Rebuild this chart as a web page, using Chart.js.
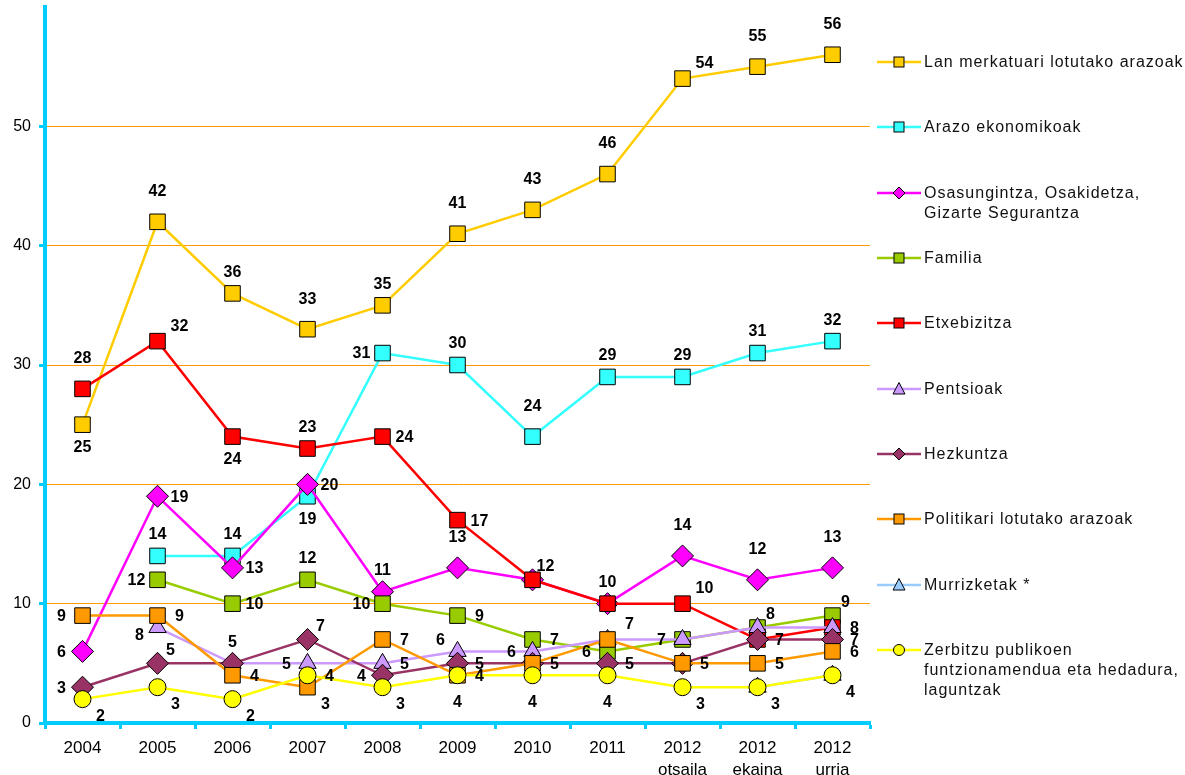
<!DOCTYPE html>
<html>
<head>
<meta charset="utf-8">
<script src="https://cdn.jsdelivr.net/npm/chart.js@4"></script>
<style>
html,body{margin:0;padding:0;background:#fff;}
#wrap{position:relative;width:1185px;height:775px;overflow:hidden;background:#fff;}
#c{position:absolute;left:0;top:0;}
#legend{position:absolute;left:877px;top:52px;font-family:"Liberation Sans",Arial,sans-serif;font-size:16px;letter-spacing:1px;color:#111;}
.item{position:relative;height:65.33px;}
.item svg{position:absolute;left:0;top:0;}
.item .txt{position:absolute;left:47px;top:0;line-height:20px;white-space:nowrap;}
</style>
</head>
<body>
<div id="wrap">
<canvas id="c" width="1185" height="775"></canvas>
<div id="legend"></div>
</div>
<script>
// ---- data ----
const categories = ['2004','2005','2006','2007','2008','2009','2010','2011',['2012','otsaila'],['2012','ekaina'],['2012','urria']];
const yTicks = [0,10,20,30,40,50];

const seriesNames = [
  'Lan merkatuari lotutako arazoak',
  'Arazo ekonomikoak',
  'Osasungintza, Osakidetza,\nGizarte Segurantza',
  'Familia',
  'Etxebizitza',
  'Pentsioak',
  'Hezkuntza',
  'Politikari lotutako arazoak',
  'Murrizketak *',
  'Zerbitzu publikoen\nfuntzionamendua eta hedadura,\nlaguntzak'
];

const lanMerkatua   = [25, 42, 36, 33, 35, 41, 43, 46, 54, 55, 56];
const arazoEkonom   = [null, 14, 14, 19, 31, 30, 24, 29, 29, 31, 32];
const osasungintza  = [6, 19, 13, 20, 11, 13, 12, 10, 14, 12, 13];
const familia       = [null, 12, 10, 12, 10, 9, 7, 6, 7, 8, 9];
const etxebizitza   = [28, 32, 24, 23, 24, 17, 12, 10, 10, 7, 8];
const pentsioak     = [null, 8, 5, 5, 5, 6, 6, 7, 7, 8, 8];
const hezkuntza     = [3, 5, 5, 7, 4, 5, 5, 5, 5, 7, 7];
const politikari    = [9, 9, 4, 3, 7, 4, 5, 7, 5, 5, 6];
const murrizketak   = [null, null, null, null, null, null, null, null, null, 3, 4];
const zerbitzu      = [2, 3, 2, 4, 3, 4, 4, 4, 3, 3, 4];

// where each value label sits relative to its point ('' = not shown)
const lblLan   = ['b','t','t2','t','t2','t','t','t','tr','t','t'];
const lblAraz  = ['','t2','t2','b','l','t2','t','t2','t2','t2','t2'];
const lblOsas  = ['l','r','r','r','t2','t','tn','t2','t','t','t'];
const lblFam   = ['','l','r','t2','l','r','r','l','','tn','tn'];
const lblEtxe  = ['t','tr','b','t2','r','r','','','tr','',''];
const lblPent  = ['','bl','t2','l','r','tl','l','','l','','r'];
const lblHezk  = ['l','tn','','tn','l','r','','r','','r','r'];
const lblPol   = ['l','r','r','br','r','b2','r','tr','r','r','r'];
const lblMurr  = ['','','','','','','','','','br','br'];
const lblZerb  = ['br','br','br','r','br','r','b2','b2','br','',''];

// ---- styles ----
const colors  = ['#ffcc00','#33ffff','#ff00ff','#99cc00','#ff0000','#cc99ff','#993366','#ff9900','#99ccff','#ffff00'];
const shapes  = ['rect','rect','rectRot','rect','rect','triangle','rectRot','rect','triangle','circle'];
const radii   = {rect:11, rectRot:11, triangle:10, circle:8.5};
const offsets = {t:[0,-30], t2:[0,-21], b:[0,23], b2:[0,27], l:[-21,1], r:[22,1], tr:[22,-15], tn:[13,-13], tl:[-17,-11], bl:[-18,8], br:[18,17]};
const axisColor = '#00ccff';
const gridColor = '#ff9900';

const values = [lanMerkatua, arazoEkonom, osasungintza, familia, etxebizitza, pentsioak, hezkuntza, politikari, murrizketak, zerbitzu];
const labelPos = [lblLan, lblAraz, lblOsas, lblFam, lblEtxe, lblPent, lblHezk, lblPol, lblMurr, lblZerb];

const datasets = values.map((v, i) => ({
  label: seriesNames[i].replace(/\n/g,' '),
  data: v,
  borderColor: colors[i],
  backgroundColor: colors[i],
  borderWidth: 2.5,
  pointStyle: shapes[i],
  pointRadius: radii[shapes[i]],
  pointHoverRadius: radii[shapes[i]],
  pointBackgroundColor: colors[i],
  pointBorderColor: '#000',
  pointBorderWidth: 1,
  tension: 0,
  fill: false,
  spanGaps: true,
  clip: false,
  order: values.length - i
}));

const valueLabels = {
  id: 'valueLabels',
  afterDatasetsDraw(chart) {
    const ctx = chart.ctx;
    ctx.save();
    ctx.font = 'bold 16px "Liberation Sans", Arial, sans-serif';
    ctx.fillStyle = '#000';
    ctx.textAlign = 'center';
    ctx.textBaseline = 'middle';
    chart.data.datasets.forEach((ds, di) => {
      const meta = chart.getDatasetMeta(di);
      meta.data.forEach((pt, i) => {
        const v = ds.data[i];
        const code = labelPos[di][i];
        if (v === null || v === undefined || !code) return;
        const o = offsets[code];
        ctx.fillText(String(v), pt.x + o[0], pt.y + o[1]);
      });
    });
    ctx.restore();
  }
};

new Chart(document.getElementById('c'), {
  type: 'line',
  data: { labels: categories, datasets },
  options: {
    responsive: false,
    animation: false,
    devicePixelRatio: 1,
    layout: { autoPadding: false, padding: { top: 7, right: 315, left: 0, bottom: 0 } },
    plugins: { legend: { display: false }, tooltip: { enabled: false } },
    scales: {
      x: {
        type: 'category',
        offset: true,
        grid: { offset: true, drawOnChartArea: false, drawTicks: true, tickLength: 6, tickColor: axisColor, tickWidth: 3 },
        border: { display: true, color: axisColor, width: 4 },
        ticks: {
          color: '#000', padding: 8, maxRotation: 0, autoSkip: false,
          font: { family: '"Liberation Sans", Arial, sans-serif', size: 17, lineHeight: 1.3 }
        },
        afterFit(s) { s.height = 52; s.paddingLeft = 0; s.paddingRight = 0; }
      },
      y: {
        min: 0, max: 60,
        afterBuildTicks(s) { s.ticks = yTicks.concat([60]).map(v => ({ value: v })); },
        grid: {
          color: c => (c.tick && (c.tick.value === 0 || c.tick.value === 60)) ? 'rgba(0,0,0,0)' : gridColor,
          lineWidth: 1,
          drawTicks: true, tickLength: 6,
          tickColor: c => (c.tick && c.tick.value === 60) ? 'rgba(0,0,0,0)' : axisColor,
          tickWidth: 3
        },
        border: { display: true, color: axisColor, width: 4 },
        ticks: {
          color: '#000', padding: 8,
          font: { family: '"Liberation Sans", Arial, sans-serif', size: 16 },
          callback: v => yTicks.includes(v) ? String(v) : ''
        },
        afterFit(s) { s.width = 45; s.paddingTop = 0; s.paddingBottom = 0; }
      }
    }
  },
  plugins: [valueLabels]
});

// ---- legend (HTML) ----
function markerSvg(shape, color) {
  let m = '';
  if (shape === 'rect') m = `<rect x="17" y="5" width="10" height="10" fill="${color}" stroke="#000" stroke-width="1"/>`;
  else if (shape === 'rectRot') m = `<polygon points="22,4 28,10 22,16 16,10" fill="${color}" stroke="#000" stroke-width="1"/>`;
  else if (shape === 'triangle') m = `<polygon points="22,3.5 28,15 16,15" fill="${color}" stroke="#000" stroke-width="1"/>`;
  else m = `<circle cx="22" cy="10" r="5.5" fill="${color}" stroke="#000" stroke-width="1"/>`;
  return `<svg width="46" height="20"><line x1="0" y1="10" x2="44" y2="10" stroke="${color}" stroke-width="2.5"/>${m}</svg>`;
}
const legend = document.getElementById('legend');
seriesNames.forEach((n, i) => {
  const d = document.createElement('div');
  d.className = 'item';
  d.innerHTML = markerSvg(shapes[i], colors[i]) + `<div class="txt">${n.replace(/\n/g,'<br>')}</div>`;
  legend.appendChild(d);
});
</script>
</body>
</html>
